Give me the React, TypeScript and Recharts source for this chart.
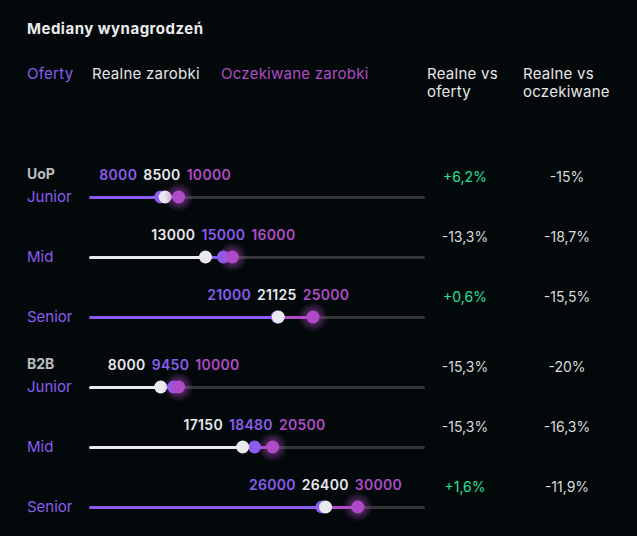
import React from "react";
import { Bar, Cell, ComposedChart, LabelList, Scatter, XAxis, YAxis } from "recharts";

// kolory serii
const OFFERS_COLOR = "#8b5cf0";
const REAL_COLOR = "#e9e9ef";
const EXPECTED_COLOR = "#b04bc8";
const TRACK_COLOR = "#333536";
const BG = "#03090a";
const FONT = "Inter, 'Noto Sans', sans-serif";
const MAX = 37500;

const levels = ["Junior", "Mid", "Senior"];

const uopOffers = [8000, 15000, 21000];
const uopReal = [8500, 13000, 21125];
const uopExpected = [10000, 16000, 25000];
const uopRealVsOffers = ["+6,2%", "-13,3%", "+0,6%"];
const uopRealVsExpected = ["-15%", "-18,7%", "-15,5%"];

const b2bOffers = [9450, 18480, 26000];
const b2bReal = [8000, 17150, 26400];
const b2bExpected = [10000, 20500, 30000];
const b2bRealVsOffers = ["-15,3%", "-15,3%", "+1,6%"];
const b2bRealVsExpected = ["-20%", "-16,3%", "-11,9%"];

type Row = {
  name: string;
  offers: number;
  real: number;
  expected: number;
  sorted: { v: number; color: string }[];
  s1: number;
  s2: number;
  s3: number;
  s4: number;
  vsOffers: string;
  vsExpected: string;
};

const buildRows = (
  offers: number[],
  real: number[],
  expected: number[],
  vsOffers: string[],
  vsExpected: string[]
): Row[] =>
  levels.map((name, i) => {
    const sorted = [
      { v: offers[i], color: OFFERS_COLOR },
      { v: real[i], color: REAL_COLOR },
      { v: expected[i], color: EXPECTED_COLOR },
    ].sort((a, b) => a.v - b.v);
    return {
      name,
      offers: offers[i],
      real: real[i],
      expected: expected[i],
      sorted,
      s1: sorted[0].v,
      s2: sorted[1].v - sorted[0].v,
      s3: sorted[2].v - sorted[1].v,
      s4: MAX - sorted[2].v,
      vsOffers: vsOffers[i],
      vsExpected: vsExpected[i],
    };
  });

const uopRows = buildRows(uopOffers, uopReal, uopExpected, uopRealVsOffers, uopRealVsExpected);
const b2bRows = buildRows(b2bOffers, b2bReal, b2bExpected, b2bRealVsOffers, b2bRealVsExpected);

const box = (props: any) => {
  const vb = props.viewBox ?? props;
  return { x: vb.x ?? props.x, y: vb.y ?? props.y, width: vb.width ?? props.width, height: vb.height ?? props.height };
};

const makeDot = (color: string, glow?: boolean) => (props: any) => {
  const { cx, cy } = props;
  if (cx == null || cy == null) return <g />;
  return (
    <g>
      {glow && <circle cx={cx} cy={cy} r={15} fill="url(#magentaGlow)" />}
      <circle cx={cx} cy={cy} r={6.5} fill={color} />
    </g>
  );
};

const GroupChart = ({ group, data }: { group: string; data: Row[] }) => {
  const ValueLabel = (props: any) => {
    const row = data[props.index];
    if (!row) return null;
    const b = box(props);
    const x = b.x + b.width;
    const y = b.y + b.height / 2;
    return (
      <text x={x} y={y - 18} textAnchor="middle" fontFamily={FONT} fontSize={14} fontWeight={600} letterSpacing={0.3}>
        {row.sorted.map((s, i) => (
          <tspan key={i} fill={s.color} dx={i === 0 ? 0 : 6}>
            {s.v}
          </tspan>
        ))}
      </text>
    );
  };

  const PercentLabel = (props: any) => {
    const row = data[props.index];
    if (!row) return null;
    const b = box(props);
    const y = b.y + b.height / 2 - 16;
    const col = (v: string) => (v.startsWith("+") ? "#27e09a" : "#d9dadb");
    return (
      <g fontFamily={FONT} fontSize={14}>
        <text x={465} y={y} textAnchor="middle" fill={col(row.vsOffers)}>
          {row.vsOffers}
        </text>
        <text x={567} y={y} textAnchor="middle" fill={col(row.vsExpected)}>
          {row.vsExpected}
        </text>
      </g>
    );
  };

  const RowTick = (props: any) => {
    const { y, payload, index } = props;
    return (
      <g fontFamily={FONT}>
        {index === 0 && (
          <text x={27} y={y - 18} fill="#b8bdc1" fontSize={14} fontWeight={700}>
            {group}
          </text>
        )}
        <text x={27} y={y + 5} fill={OFFERS_COLOR} fontSize={15}>
          {payload.value}
        </text>
      </g>
    );
  };

  return (
    <ComposedChart
      width={637}
      height={200}
      data={data}
      layout="vertical"
      margin={{ top: 20, right: 212, bottom: 0, left: 27 }}
    >
      <XAxis type="number" domain={[0, MAX]} hide allowDataOverflow />
      <YAxis type="category" dataKey="name" width={62} axisLine={false} tickLine={false} tick={RowTick} />
      <Bar dataKey="s1" stackId="t" barSize={3} radius={[1.5, 0, 0, 1.5]} isAnimationActive={false}>
        {data.map((r, i) => (
          <Cell key={i} fill={r.sorted[0].color} />
        ))}
      </Bar>
      <Bar dataKey="s2" stackId="t" barSize={3} isAnimationActive={false}>
        {data.map((r, i) => (
          <Cell key={i} fill={r.sorted[1].color} />
        ))}
        <LabelList dataKey="s2" content={ValueLabel} />
      </Bar>
      <Bar dataKey="s3" stackId="t" barSize={3} isAnimationActive={false}>
        {data.map((r, i) => (
          <Cell key={i} fill={r.sorted[2].color} />
        ))}
      </Bar>
      <Bar dataKey="s4" stackId="t" barSize={3} radius={[0, 1.5, 1.5, 0]} fill={TRACK_COLOR} isAnimationActive={false}>
        <LabelList dataKey="s4" content={PercentLabel} />
      </Bar>
      <Scatter dataKey="offers" shape={makeDot(OFFERS_COLOR)} isAnimationActive={false} />
      <Scatter dataKey="real" shape={makeDot(REAL_COLOR)} isAnimationActive={false} />
      <Scatter dataKey="expected" shape={makeDot(EXPECTED_COLOR, true)} isAnimationActive={false} />
    </ComposedChart>
  );
};

export default function App() {
  return (
    <div
      style={{
        position: "absolute",
        left: 0,
        top: 0,
        width: 637,
        height: 536,
        background: BG,
        overflow: "hidden",
      }}
    >
      <svg width={637} height={130} style={{ position: "absolute", left: 0, top: 0 }} fontFamily={FONT}>
        <defs>
          <radialGradient id="magentaGlow">
            <stop offset="0%" stopColor={EXPECTED_COLOR} stopOpacity={0.7} />
            <stop offset="45%" stopColor={EXPECTED_COLOR} stopOpacity={0.4} />
            <stop offset="100%" stopColor={EXPECTED_COLOR} stopOpacity={0} />
          </radialGradient>
        </defs>
        <text x={27} y={34} fill="#ececec" fontSize={15} fontWeight={700} letterSpacing={0.5}>
          Mediany wynagrodzeń
        </text>
        <g fontSize={15} letterSpacing={0.25}>
          <text x={27} y={79} fill={OFFERS_COLOR}>
            Oferty
          </text>
          <text x={92} y={79} fill="#e6e6e6">
            Realne zarobki
          </text>
          <text x={221} y={79} fill={EXPECTED_COLOR}>
            Oczekiwane zarobki
          </text>
          <text x={427} y={79} fill="#e6e6e6">
            Realne vs
          </text>
          <text x={427} y={97} fill="#e6e6e6">
            oferty
          </text>
          <text x={523} y={79} fill="#e6e6e6">
            Realne vs
          </text>
          <text x={523} y={97} fill="#e6e6e6">
            oczekiwane
          </text>
        </g>
      </svg>
      <div style={{ position: "absolute", left: 0, top: 147 }}>
        <GroupChart group="UoP" data={uopRows} />
      </div>
      <div style={{ position: "absolute", left: 0, top: 337 }}>
        <GroupChart group="B2B" data={b2bRows} />
      </div>
    </div>
  );
}
